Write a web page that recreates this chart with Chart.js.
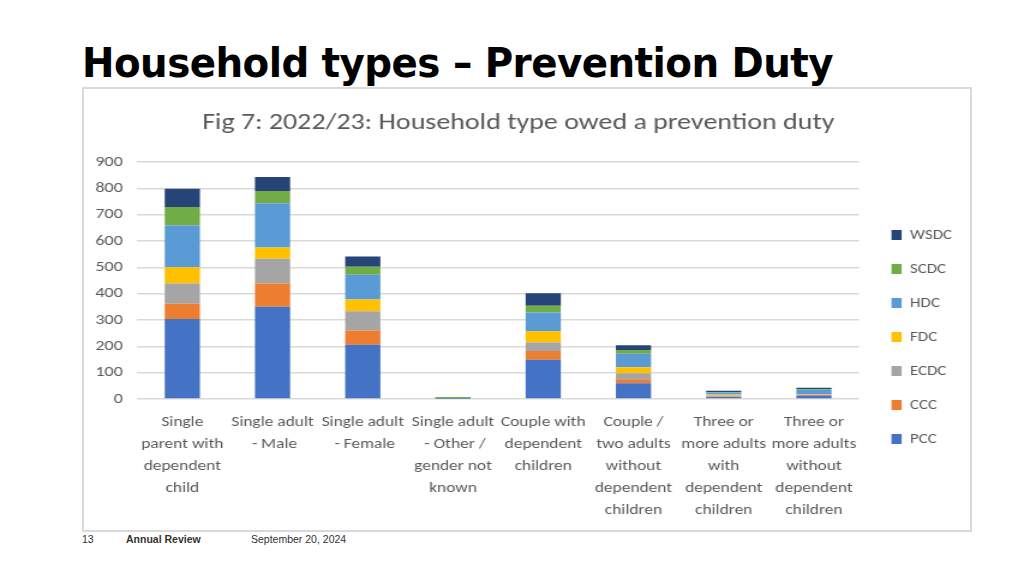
<!DOCTYPE html>
<html>
<head>
<meta charset="utf-8">
<script src="https://cdn.jsdelivr.net/npm/chart.js@4.4.1/dist/chart.umd.min.js"></script>
<style>
  html, body { margin: 0; padding: 0; background: #ffffff; }
  body { width: 1024px; height: 576px; position: relative; overflow: hidden; font-family: "Liberation Sans", Arial, sans-serif; }
  #slideTitle { position: absolute; left: 82px; top: 40px; font-family: "DejaVu Sans Condensed", "DejaVu Sans", sans-serif; font-weight: bold; font-size: 40px; color: #000; white-space: nowrap; transform-origin: 0 0; transform: scaleX(1.078); letter-spacing: -0.5px; }
  #frame { position: absolute; left: 82px; top: 87px; width: 886px; height: 441px; border: 2px solid #d9d9d9; background: #fff; overflow: hidden; }
  #chartWrap { position: absolute; left: 0; top: 0; width: 738px; height: 441px; transform-origin: 0 0; transform: scaleX(1.2005); }
  .foot { position: absolute; top: 533px; font-size: 10.5px; color: #333; font-family: "Liberation Sans", Arial, sans-serif; }
</style>
</head>
<body>
<div id="slideTitle">Household types – Prevention Duty</div>
<div id="frame"><div id="chartWrap"><canvas id="c"></canvas></div></div>
<div class="foot" style="left:82px;">13</div>
<div class="foot" style="left:126px;font-weight:bold;">Annual Review</div>
<div class="foot" style="left:251px;">September 20, 2024</div>
<script>
const categories = [
  ["Single", "parent with", "dependent", "child"],
  ["Single adult", " - Male"],
  ["Single adult", " - Female"],
  ["Single adult", " - Other /", "gender not", "known"],
  ["Couple with", "dependent", "children"],
  ["Couple /", "two adults", "without", "dependent", "children"],
  ["Three or", "more adults", "with", "dependent", "children"],
  ["Three or", "more adults", "without", "dependent", "children"]
];
const seriesNames = ["PCC", "CCC", "ECDC", "FDC", "HDC", "SCDC", "WSDC"];
const PCC  = [304, 350, 206, 1, 149, 60, 8, 12];
const CCC  = [58, 89, 54, 0, 33, 15, 2, 3];
const ECDC = [77, 94, 73, 0, 33, 23, 3, 2];
const FDC  = [61, 42, 45, 0, 42, 23, 4, 2];
const HDC  = [159, 168, 94, 1, 71, 51, 8, 16];
const SCDC = [70, 47, 30, 6, 26, 14, 2, 3];
const WSDC = [69, 53, 39, 0, 48, 18, 4, 5];
const yTicks = [0, 100, 200, 300, 400, 500, 600, 700, 800, 900];
const colors = ["#4472C4", "#ED7D31", "#A5A5A5", "#FFC000", "#5B9BD5", "#70AD47", "#264478"];
const seriesValues = [PCC, CCC, ECDC, FDC, HDC, SCDC, WSDC];

const FONT = 'Carlito, Lato, sans-serif';

const legendShift = {
  id: 'legendShift',
  afterLayout(chart) {
    const l = chart.legend;
    if (!l) return;
    l.left += 7; l.right += 7;
    l.top += 30; l.bottom += 30;
  }
};

const ctx = document.getElementById('c');
new Chart(ctx, {
  type: 'bar',
  data: {
    labels: categories,
    datasets: seriesNames.map((n, i) => ({
      label: n,
      data: seriesValues[i],
      backgroundColor: colors[i],
      borderWidth: 0,
      categoryPercentage: 1,
      barPercentage: 0.39
    }))
  },
  plugins: [legendShift],
  options: {
    responsive: true,
    maintainAspectRatio: false,
    animation: false,
    layout: { padding: { left: -2.5, right: 12, top: 0, bottom: 5 } },
    plugins: {
      title: {
        display: true,
        text: 'Fig 7: 2022/23: Household type owed a prevention duty',
        color: '#595959',
        font: { family: FONT, size: 23.3, weight: 'normal' },
        padding: { top: 20, bottom: 25 }
      },
      legend: {
        position: 'right',
        reverse: true,
        labels: {
          color: '#595959',
          font: { family: FONT, size: 14 },
          boxWidth: 8.5,
          boxHeight: 10,
          padding: 20
        }
      },
      tooltip: { enabled: false }
    },
    scales: {
      x: {
        stacked: true,
        grid: { display: false },
        border: { display: false },
        ticks: {
          color: '#595959',
          maxRotation: 0,
          minRotation: 0,
          autoSkip: false,
          font: { family: FONT, size: 14.5, lineHeight: 1.517 },
          padding: 4
        }
      },
      y: {
        stacked: true,
        min: 0,
        max: 900,
        afterBuildTicks: (axis) => { axis.ticks = yTicks.map(v => ({ value: v })); },
        grid: { color: '#d9d9d9', lineWidth: 1.5, drawTicks: false },
        border: { display: false },
        ticks: {
          color: '#595959',
          font: { family: FONT, size: 15 },
          padding: 12
        }
      }
    }
  }
});
</script>
</body>
</html>
